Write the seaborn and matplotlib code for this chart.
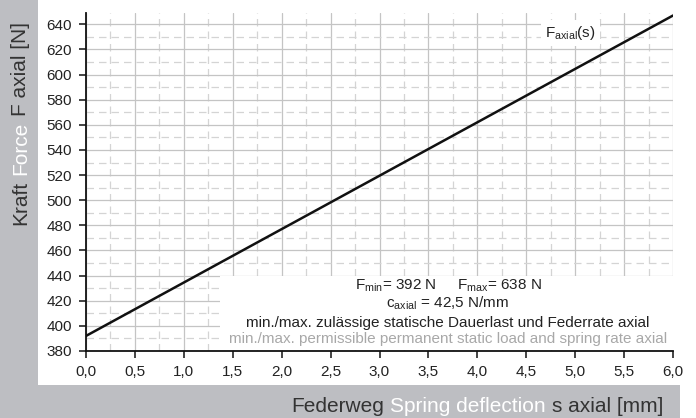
import numpy as np
import pandas as pd
import matplotlib
matplotlib.use("Agg")
import matplotlib.pyplot as plt
from matplotlib.patches import Rectangle
from matplotlib.ticker import MultipleLocator, FuncFormatter
import seaborn as sns

# Federkennlinie axial
s_values = [0.0, 6.0]
force_values = [392, 647]
f_min = 392
f_max = 638
c_axial = "42,5"
x_ticks = np.arange(0, 6.01, 0.5)
y_ticks = np.arange(380, 641, 20)

sns.set_theme(style="white")
plt.rcParams['font.family'] = ['Liberation Sans', 'DejaVu Sans']

W, H = 696, 418
bg = '#bdbec2'
dark = '#333333'

fig = plt.figure(figsize=(W / 100, H / 100), dpi=100, facecolor='white')
# graue Randstreifen links und unten
fig.patches.append(Rectangle((0, 0), 38 / W, 1, transform=fig.transFigure,
                             facecolor=bg, edgecolor='none', zorder=-5))
fig.patches.append(Rectangle((0, 0), 680 / W, (H - 385) / H, transform=fig.transFigure,
                             facecolor=bg, edgecolor='none', zorder=-5))

ax = fig.add_axes([86 / W, (H - 351) / H, (673 - 86) / W, (351 - 13) / H])
ax.set_facecolor('white')

df = pd.DataFrame({'s': s_values, 'F': force_values})
sns.lineplot(data=df, x='s', y='F', color='#111111', linewidth=1.8, ax=ax, zorder=3)

ax.set_xlim(0, 6)
ax.set_ylim(380, 649)
ax.set_xticks(x_ticks)
ax.set_yticks(y_ticks)
ax.xaxis.set_minor_locator(MultipleLocator(0.25))
ax.yaxis.set_minor_locator(MultipleLocator(10))
ax.xaxis.set_major_formatter(FuncFormatter(lambda v, p: f"{v:.1f}".replace('.', ',')))
ax.yaxis.set_major_formatter(FuncFormatter(lambda v, p: f"{v:.0f}"))
ax.grid(which='major', color='#c4c4c4', linewidth=0.9, linestyle='-')
ax.grid(which='minor', color='#d4d4d4', linewidth=0.9, linestyle=(0, (6, 4)))
ax.set_axisbelow(True)
ax.set_xlabel('')
ax.set_ylabel('')

for side in ['top', 'right']:
    ax.spines[side].set_visible(False)
for side in ['left', 'bottom']:
    ax.spines[side].set_color('#111111')
    ax.spines[side].set_linewidth(1.3)
ax.tick_params(which='major', direction='out', length=5, width=1.1, color='#111111',
               labelsize=11, labelcolor='#222222', left=True, bottom=True, pad=5)
ax.tick_params(which='minor', length=0)

# Textkasten unten rechts
ax.add_patch(Rectangle((1.37, 381), 4.63, 59, facecolor='white', edgecolor='none', zorder=2))
txt = dict(ha='center', va='center', fontsize=11, zorder=4)
ax.text(3.7, 432, r"F$_\mathregular{min}$= %d N     F$_\mathregular{max}$= %d N" % (f_min, f_max),
        color='#222222', **txt)
ax.text(3.7, 418, r"c$_\mathregular{axial}$ = %s N/mm" % c_axial, color='#222222', **txt)
ax.text(3.7, 402.5, "min./max. zulässige statische Dauerlast und Federrate axial",
        color='#222222', **txt)
ax.text(3.7, 389.5, "min./max. permissible permanent static load and spring rate axial",
        color='#a8a8a8', **txt)

ax.text(4.95, 633, r"F$_\mathregular{axial}$(s)", ha='center', va='center', fontsize=11,
        color='#222222', zorder=4,
        bbox=dict(facecolor='white', edgecolor='none', pad=3))

# Achsentitel mit zweifarbigen Teilen
fig.canvas.draw()
renderer = fig.canvas.get_renderer()


def text_width(s, size):
    t = fig.text(0, 0, s, fontsize=size)
    w = t.get_window_extent(renderer).width
    t.remove()
    return w


lab_size = 15
space = text_width("a a", lab_size) - text_width("aa", lab_size)

x_parts = [("Federweg", dark), ("Spring deflection", 'white'), ("s axial [mm]", dark)]
widths = [text_width(p, lab_size) for p, c in x_parts]
total = sum(widths) + space * (len(x_parts) - 1)
x = 663 - total
for (p, c), w in zip(x_parts, widths):
    fig.text(x / W, (H - 412) / H, p, fontsize=lab_size, color=c, ha='left', va='baseline')
    x += w + space

y_parts = [("Kraft", dark), ("Force", 'white'), ("F axial [N]", dark)]
widths = [text_width(p, lab_size) for p, c in y_parts]
y = H - 225
for (p, c), w in zip(y_parts, widths):
    fig.text(21 / W, y / H, p, fontsize=lab_size, color=c, rotation=90, ha='center', va='bottom')
    y += w + space

fig.savefig('out.png', dpi=100, facecolor='white')
